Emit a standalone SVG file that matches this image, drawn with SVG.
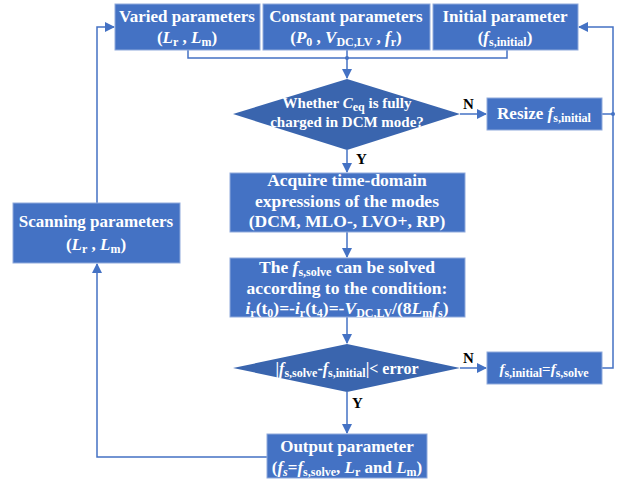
<svg xmlns="http://www.w3.org/2000/svg" width="626" height="481" viewBox="0 0 626 481">
<defs>
<marker id="ah" markerWidth="10" markerHeight="10" refX="9" refY="5" orient="auto" markerUnits="userSpaceOnUse">
<path d="M0,0 L10,5 L0,10 Z" fill="#4472C4"/>
</marker>
<style>
.box{fill:#4472C4;stroke:#8FAADC;stroke-width:1}
.dia{fill:#3A65AE;stroke:none}
.t{font-family:"Liberation Serif","Times New Roman",serif;font-weight:bold;fill:#fff;font-size:17px;text-anchor:middle}
.b{font-size:17.5px}
.s{font-size:12px}
.i{font-style:italic}
.ln{fill:none;stroke:#4472C4;stroke-width:1.5}
.lab{font-family:"Liberation Serif","Times New Roman",serif;font-weight:bold;fill:#000;font-size:15px}
</style>
</defs>
<rect width="626" height="481" fill="#fff"/>
<g id="connectors">
<polyline class="ln" points="188,50 188,58 507,58 507,50"/>
<line class="ln" x1="347" y1="50" x2="347" y2="78" marker-end="url(#ah)"/>
<circle cx="347" cy="58" r="2" fill="#4472C4"/>
<line class="ln" x1="460" y1="114" x2="486" y2="114" marker-end="url(#ah)"/>
<line class="ln" x1="347" y1="150" x2="347" y2="172" marker-end="url(#ah)"/>
<line class="ln" x1="347" y1="232" x2="347" y2="257" marker-end="url(#ah)"/>
<line class="ln" x1="347" y1="317" x2="347" y2="343" marker-end="url(#ah)"/>
<line class="ln" x1="460" y1="368" x2="486" y2="368" marker-end="url(#ah)"/>
<line class="ln" x1="347" y1="392" x2="347" y2="433" marker-end="url(#ah)"/>
<polyline class="ln" points="602,368 613,368 613,27 579,27" marker-end="url(#ah)"/>
<line class="ln" x1="602" y1="114" x2="613" y2="114"/>
<circle cx="613" cy="114" r="2" fill="#4472C4"/>
<polyline class="ln" points="267,457 97,457 97,264" marker-end="url(#ah)"/>
<polyline class="ln" points="97,203 97,27 114,27" marker-end="url(#ah)"/>
<text class="lab" x="463" y="109">N</text>
<text class="lab" x="356" y="164">Y</text>
<text class="lab" x="463" y="363">N</text>
<text class="lab" x="352" y="408">Y</text>
</g>
<g id="varied">
<rect class="box" x="115" y="4" width="145" height="46"/>
<text class="t" x="187" y="22">Varied parameters</text>
<text class="t" x="187" y="43">(<tspan class="i">L</tspan><tspan class="s" dy="3">r</tspan><tspan dy="-3"> , </tspan><tspan class="i">L</tspan><tspan class="s" dy="3">m</tspan><tspan dy="-3">)</tspan></text>
</g>
<g id="constant">
<rect class="box" x="263" y="4" width="167" height="46"/>
<text class="t" x="346" y="22">Constant parameters</text>
<text class="t" x="346" y="43">(<tspan class="i">P</tspan><tspan class="s" dy="3">0</tspan><tspan dy="-3"> , </tspan><tspan class="i">V</tspan><tspan class="s" dy="3">DC,LV</tspan><tspan dy="-3"> , </tspan><tspan class="i">f</tspan><tspan class="s" dy="3">r</tspan><tspan dy="-3">)</tspan></text>
</g>
<g id="initial">
<rect class="box" x="433" y="4" width="145" height="46"/>
<text class="t" x="505" y="22">Initial parameter</text>
<text class="t" x="505" y="43">(<tspan class="i">f</tspan><tspan class="s" dy="3">s,initial</tspan><tspan dy="-3">)</tspan></text>
</g>
<g id="decision1">
<polygon class="dia" points="347,79 460,114 347,150 233,114"/>
<text class="t" x="347" y="108" style="font-size:15px">Whether <tspan class="i">C</tspan><tspan class="s" dy="3">eq</tspan><tspan dy="-3"> is fully</tspan></text>
<text class="t" x="347" y="127" style="font-size:15px">charged in DCM mode?</text>
</g>
<g id="resize">
<rect class="box" x="487" y="98" width="115" height="32"/>
<text class="t" x="544" y="119">Resize <tspan class="i">f</tspan><tspan class="s" dy="3">s,initial</tspan></text>
</g>
<g id="acquire">
<rect class="box" x="230" y="173" width="235" height="59"/>
<text class="t b" x="347" y="186">Acquire time-domain</text>
<text class="t b" x="347" y="207">expressions of the modes</text>
<text class="t b" x="347" y="227">(DCM, MLO-, LVO+, RP)</text>
</g>
<g id="solve">
<rect class="box" x="230" y="258" width="235" height="59"/>
<text class="t b" x="347" y="273">The <tspan class="i">f</tspan><tspan class="s" dy="3">s,solve</tspan><tspan dy="-3"> can be solved</tspan></text>
<text class="t b" x="347" y="294">according to the condition:</text>
<text class="t b" x="347" y="314"><tspan class="i">i</tspan><tspan class="s" dy="3">r</tspan><tspan dy="-3">(t</tspan><tspan class="s" dy="3">0</tspan><tspan dy="-3">)=-</tspan><tspan class="i">i</tspan><tspan class="s" dy="3">r</tspan><tspan dy="-3">(t</tspan><tspan class="s" dy="3">4</tspan><tspan dy="-3">)=-</tspan><tspan class="i">V</tspan><tspan class="s" dy="3">DC,LV</tspan><tspan dy="-3">/(8</tspan><tspan class="i">L</tspan><tspan class="s" dy="3">m</tspan><tspan class="i" dy="-3">f</tspan><tspan class="s" dy="3">s</tspan><tspan dy="-3">)</tspan></text>
</g>
<g id="decision2">
<polygon class="dia" points="347,344 460,368 347,392 233,368"/>
<text class="t" x="347" y="374" style="font-size:16px">|<tspan class="i">f</tspan><tspan class="s" dy="3">s,solve</tspan><tspan dy="-3">-</tspan><tspan class="i">f</tspan><tspan class="s" dy="3">s,initial</tspan><tspan dy="-3">|&lt; error</tspan></text>
</g>
<g id="update">
<rect class="box" x="487" y="352" width="115" height="32"/>
<text class="t" x="544" y="374" style="font-size:15px"><tspan class="i">f</tspan><tspan class="s" dy="3">s,initial</tspan><tspan dy="-3">=</tspan><tspan class="i">f</tspan><tspan class="s" dy="3">s,solve</tspan></text>
</g>
<g id="output">
<rect class="box" x="267" y="434" width="160" height="44"/>
<text class="t" x="347" y="452">Output parameter</text>
<text class="t" x="347" y="473">(<tspan class="i">f</tspan><tspan class="s i" dy="3">s</tspan><tspan dy="-3">=</tspan><tspan class="i">f</tspan><tspan class="s" dy="3">s,solve</tspan><tspan dy="-3">, </tspan><tspan class="i">L</tspan><tspan class="s" dy="3">r</tspan><tspan dy="-3"> and </tspan><tspan class="i">L</tspan><tspan class="s" dy="3">m</tspan><tspan dy="-3">)</tspan></text>
</g>
<g id="scanning">
<rect class="box" x="13" y="203" width="167" height="60"/>
<text class="t" x="96" y="227">Scanning parameters</text>
<text class="t" x="96" y="250">(<tspan class="i">L</tspan><tspan class="s" dy="3">r</tspan><tspan dy="-3"> , </tspan><tspan class="i">L</tspan><tspan class="s" dy="3">m</tspan><tspan dy="-3">)</tspan></text>
</g>
</svg>
